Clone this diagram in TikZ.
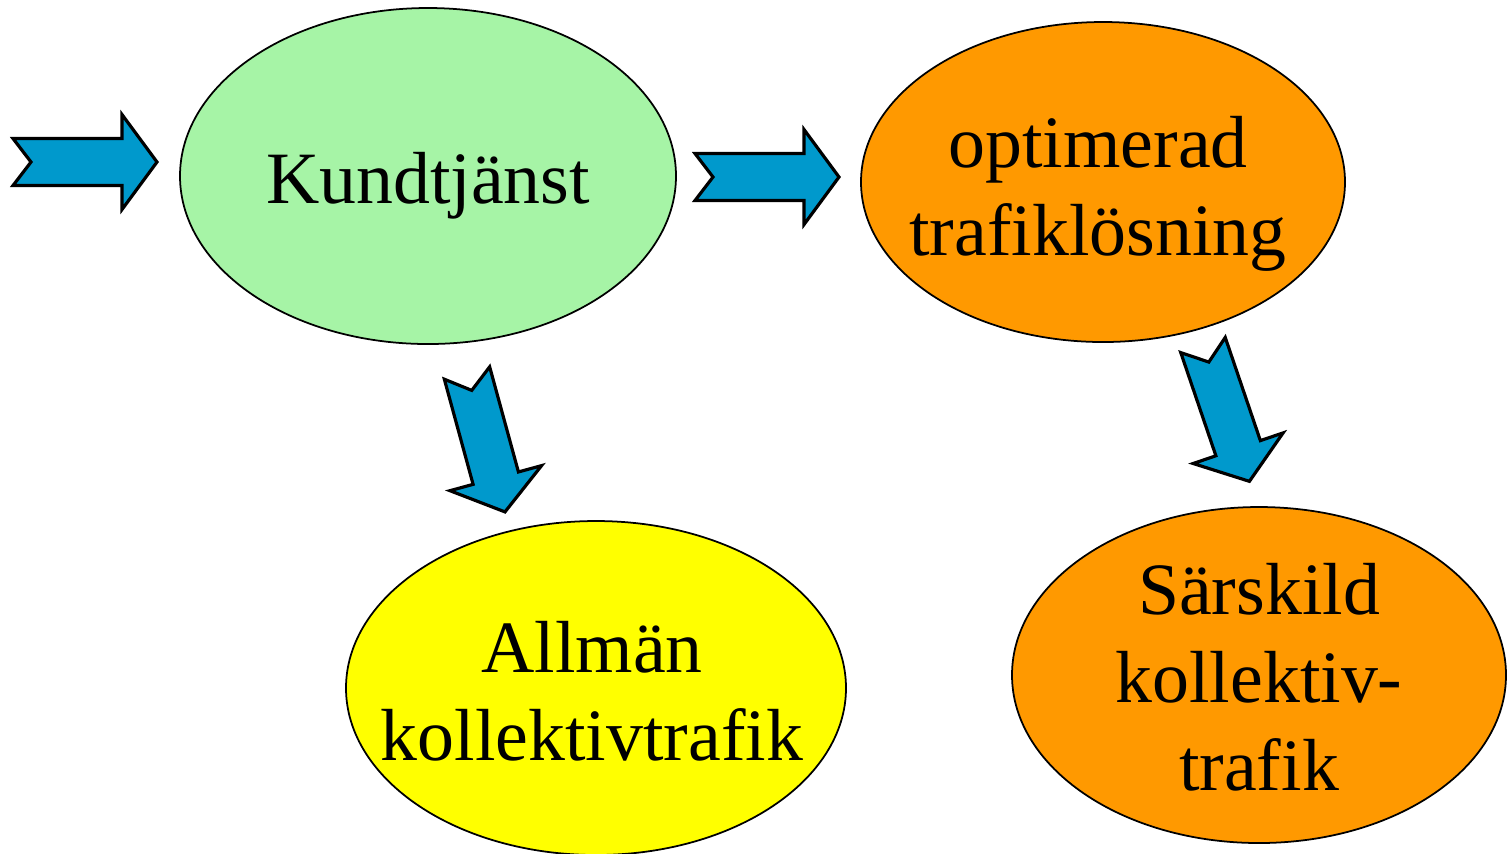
\documentclass[tikz,border=0pt]{standalone}
\usepackage{fontspec}
\setmainfont{Liberation Serif}
\usepackage{tikz}
\usetikzlibrary{shapes.geometric}
\definecolor{pilblue}{RGB}{0,153,204}
\definecolor{ljusgron}{RGB}{166,244,166}
\definecolor{orange}{RGB}{255,153,0}
\definecolor{gul}{RGB}{255,255,0}
\tikzset{
  %Define style for the ovals
  oval/.style={
    ellipse,
    draw=black, line width=0.5pt,
    inner sep=0pt},
  %Define style for the texts
  rubrik/.style={
    align=center,
    inner sep=0pt,
    font=\fontsize{21}{25}\selectfont},
  % Define block arrow
  blockpil/.pic={
    \draw[fill=pilblue, line width=0.9pt, line join=miter]
      (0,0.235) -- (1.09,0.235) -- (1.09,0.475) -- (1.44,0)
      -- (1.09,-0.475) -- (1.09,-0.235) -- (0,-0.235) -- (0.18,0) -- cycle;}
}

\begin{document}
\begin{tikzpicture}
  \useasboundingbox (0,0) rectangle (15.07,-8.53);
  % ovals
  \node[oval, fill=ljusgron, minimum width=4.96cm, minimum height=3.36cm] (kund) at (4.28,-1.76) {};
  \node[oval, fill=orange, minimum width=4.84cm, minimum height=3.20cm] (optimerad) at (11.03,-1.82) {};
  \node[oval, fill=gul, minimum width=5.00cm, minimum height=3.34cm] (allman) at (5.96,-6.88) {};
  \node[oval, fill=orange, minimum width=4.94cm, minimum height=3.36cm] (sarskild) at (12.59,-6.75) {};
  % texts
  \node[rubrik] (kundtext) at (4.28,-1.86) {Kundtjänst};
  \node[rubrik] (optimeradtext) at (10.98,-1.94) {optimerad\\trafiklösning};
  \node[rubrik] (allmantext) at (5.92,-6.91) {Allmän\\kollektivtrafik};
  \node[rubrik] (sarskildtext) at (12.59,-6.77) {Särskild\\kollektiv-\\trafik};
  % arrows
  \pic at (0.13,-1.62) {blockpil};
  \pic at (6.95,-1.77) {blockpil};
  \pic[rotate=-74.7] at (4.67,-3.73) {blockpil};
  \pic[rotate=-71.2] at (12.03,-3.45) {blockpil};
\end{tikzpicture}
\end{document}
